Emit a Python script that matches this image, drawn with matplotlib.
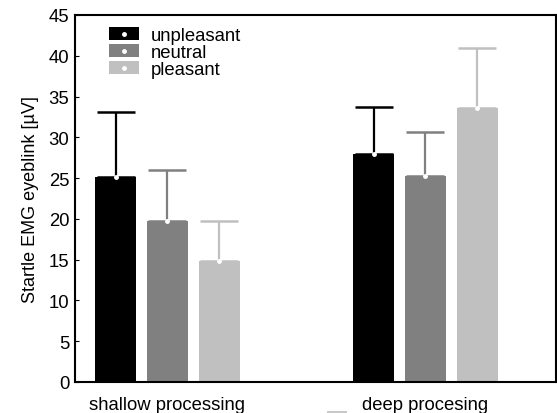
import matplotlib
matplotlib.use("Agg")
import matplotlib.pyplot as plt
from matplotlib.patches import Patch, Rectangle
from matplotlib.lines import Line2D
import numpy as np

plt.rcParams['font.family'] = ['Liberation Sans', 'DejaVu Sans']

groups = ["shallow processing", "deep procesing"]
conditions = ["unpleasant", "neutral", "pleasant"]
colors = ["#000000", "#808080", "#c0c0c0"]
means = {
    "unpleasant": [25.1, 27.9],
    "neutral": [19.8, 25.2],
    "pleasant": [14.8, 33.6],
}
errors = {
    "unpleasant": [8.0, 5.8],
    "neutral": [6.2, 5.5],
    "pleasant": [5.0, 7.4],
}
yticks = [0, 5, 10, 15, 20, 25, 30, 35, 40, 45]

fig = plt.figure(figsize=(5.57, 4.14), dpi=100)
ax = fig.add_axes([75/557, 1 - 383/414, (556-75)/557, (383-16)/414])

x = np.arange(len(groups))
width = 0.159
offsets = [-0.2, 0.0, 0.2]
for cond, col, off in zip(conditions, colors, offsets):
    xs = x + off
    ax.bar(xs, means[cond], width=width, color=col, zorder=2)
    ax.errorbar(xs, means[cond], yerr=[np.zeros(len(groups)), errors[cond]],
                fmt='none', ecolor=col, elinewidth=1.6, capsize=13.5,
                capthick=1.8, zorder=3)
    ax.plot(xs, means[cond], 'o', color='white', markersize=2.5, zorder=4)

ax.set_xlim(-0.3585, 1.506)
ax.set_ylim(0, 45)
ax.set_yticks(yticks)
ax.set_xticks(x)
ax.set_xticklabels(groups, fontsize=13.3)
ax.tick_params(axis='y', direction='in', length=3, labelsize=13.3, pad=4, right=False)
ax.tick_params(axis='x', length=0, pad=10)
for s in ax.spines.values():
    s.set_linewidth(1.5)
ax.set_ylabel("Startle EMG eyeblink [µV]", fontsize=13, labelpad=7)

handles = []
for col in colors:
    handles.append((Patch(facecolor=col, edgecolor='none'),
                    Line2D([], [], marker='o', color='white', linestyle='none',
                           markersize=2.5)))
ax.legend(handles, conditions, loc='upper left', bbox_to_anchor=(0.045, 1.0),
          frameon=False, fontsize=13.3, handlelength=1.65, handleheight=0.7,
          labelspacing=0.0, handletextpad=0.65, borderaxespad=0.25)

fig.patches.append(Rectangle((327/557, 0), 20/557, 2/414, transform=fig.transFigure,
                             facecolor='#c8c8c8', edgecolor='none'))

fig.savefig("out.png", dpi=100)
